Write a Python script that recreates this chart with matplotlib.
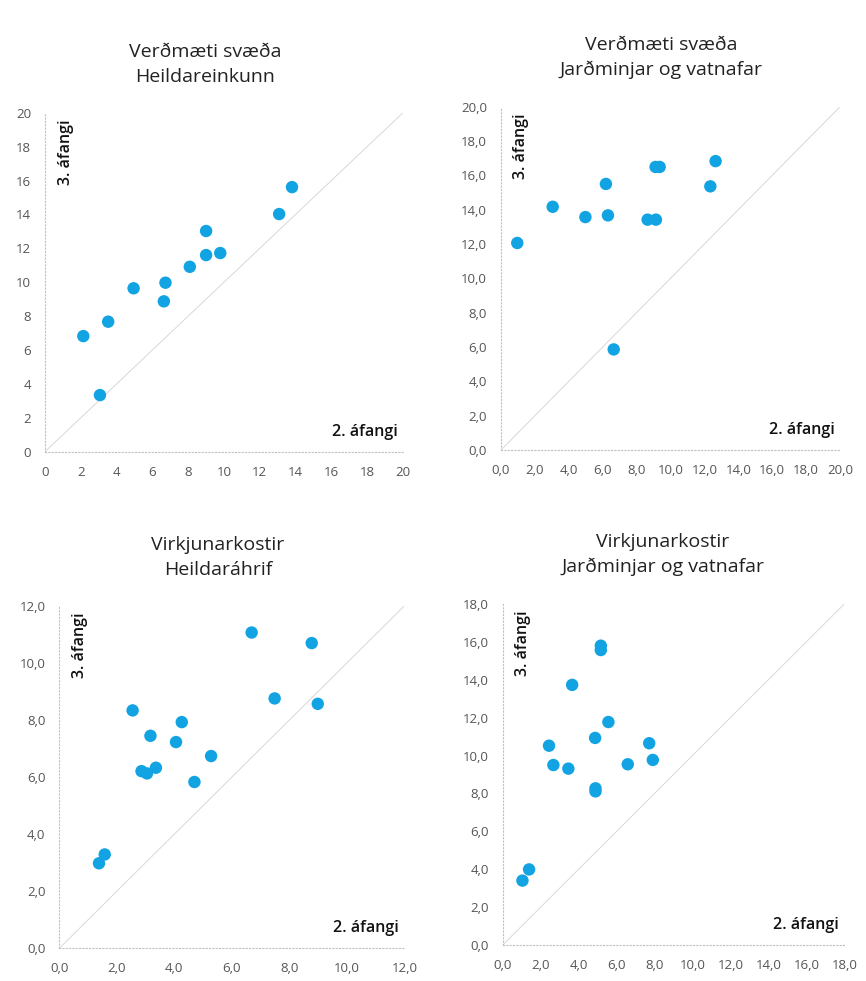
import matplotlib
matplotlib.use("Agg")
import matplotlib.pyplot as plt
from matplotlib.ticker import FuncFormatter

plt.rcParams['font.family'] = ['Open Sans', 'DejaVu Sans']

# Panel 1: Verðmæti svæða - Heildareinkunn
p1_x = [2.14, 3.07, 3.53, 4.95, 6.64, 6.73, 8.09, 9.0, 9.0, 9.79, 13.08, 13.8]
p1_y = [6.82, 3.34, 7.67, 9.64, 8.87, 9.97, 10.91, 13.02, 11.6, 11.72, 14.02, 15.61]

# Panel 2: Verðmæti svæða - Jarðminjar og vatnafar
p2_x = [0.96, 3.05, 4.98, 6.19, 6.31, 6.65, 8.65, 9.14, 9.12, 9.36, 12.35, 12.66]
p2_y = [12.06, 14.17, 13.57, 15.50, 13.67, 5.86, 13.42, 13.42, 16.49, 16.49, 15.36, 16.83]

# Panel 3: Virkjunarkostir - Heildaráhrif
p3_x = [1.38, 1.58, 2.55, 2.86, 3.05, 3.17, 3.36, 4.06, 4.26, 4.70, 5.28, 6.69, 7.49, 8.78, 8.99]
p3_y = [2.98, 3.29, 8.34, 6.21, 6.13, 7.45, 6.33, 7.23, 7.93, 5.83, 6.74, 11.07, 8.76, 10.70, 8.57]

# Panel 4: Virkjunarkostir - Jarðminjar og vatnafar
p4_x = [1.04, 1.39, 2.44, 2.67, 3.46, 3.66, 4.87, 4.89, 4.89, 5.17, 5.17, 5.57, 6.59, 7.72, 7.91]
p4_y = [3.40, 3.99, 10.52, 9.50, 9.31, 13.73, 10.93, 8.27, 8.11, 15.80, 15.57, 11.77, 9.54, 10.65, 9.77]

titles = [
    ("Verðmæti svæða", "Heildareinkunn"),
    ("Verðmæti svæða", "Jarðminjar og vatnafar"),
    ("Virkjunarkostir", "Heildaráhrif"),
    ("Virkjunarkostir", "Jarðminjar og vatnafar"),
]
axis_max = [20, 20, 12, 18]
use_decimal = [False, True, True, True]
x_label = "2. áfangi"
y_label = "3. áfangi"

W, H = 866, 981
fig = plt.figure(figsize=(W / 100, H / 100), dpi=100)

# axes boxes in pixel coords (left, top, right, bottom)
boxes = [(45, 112.7, 403, 451.7), (501, 106.7, 840, 450),
         (59.3, 606, 404.3, 948.3), (502.7, 604, 844.3, 945)]
title_pos = [(205, 52, 77), (661, 45, 70), (218, 545, 570), (663, 542, 567)]

data = [(p1_x, p1_y), (p2_x, p2_y), (p3_x, p3_y), (p4_x, p4_y)]
dot = '#12a3e3'

for i in range(4):
    l, t, r, b = boxes[i]
    ax = fig.add_axes([l / W, 1 - b / H, (r - l) / W, (b - t) / H])
    m = axis_max[i]
    ax.set_xlim(0, m)
    ax.set_ylim(0, m)
    ax.plot([0, m], [0, m], color='#d2d2d2', lw=0.6, zorder=1)
    xs, ys = data[i]
    ax.scatter(xs, ys, s=80, color=dot, edgecolors='none', zorder=3, clip_on=False)
    ticks = list(range(0, m + 1, 2))
    ax.set_xticks(ticks)
    ax.set_yticks(ticks)
    if use_decimal[i]:
        fmt = FuncFormatter(lambda v, p: f"{v:.1f}".replace('.', ','))
    else:
        fmt = FuncFormatter(lambda v, p: f"{int(v)}")
    ax.xaxis.set_major_formatter(fmt)
    ax.yaxis.set_major_formatter(fmt)
    ax.tick_params(length=0, labelsize=9.5, labelcolor='#555555', pad=10)
    for s in ['top', 'right']:
        ax.spines[s].set_visible(False)
    for s in ['left', 'bottom']:
        ax.spines[s].set_linestyle((0, (1, 2)))
        ax.spines[s].set_color('#c0c0c0')
        ax.spines[s].set_linewidth(0.8)
    ax.text(0.06, 0.98, y_label, transform=ax.transAxes, rotation=90,
            ha='center', va='top', fontsize=11.5, fontweight='semibold', color='#111111')
    ax.text(0.985, 0.035, x_label, transform=ax.transAxes,
            ha='right', va='bottom', fontsize=11.5, fontweight='semibold', color='#111111')
    cx, y1, y2 = title_pos[i]
    fig.text(cx / W, 1 - y1 / H, titles[i][0], ha='center', va='center',
             fontsize=14, color='#222222')
    fig.text(cx / W, 1 - y2 / H, titles[i][1], ha='center', va='center',
             fontsize=14, color='#222222')

fig.savefig('out.png', dpi=100, facecolor='white')
